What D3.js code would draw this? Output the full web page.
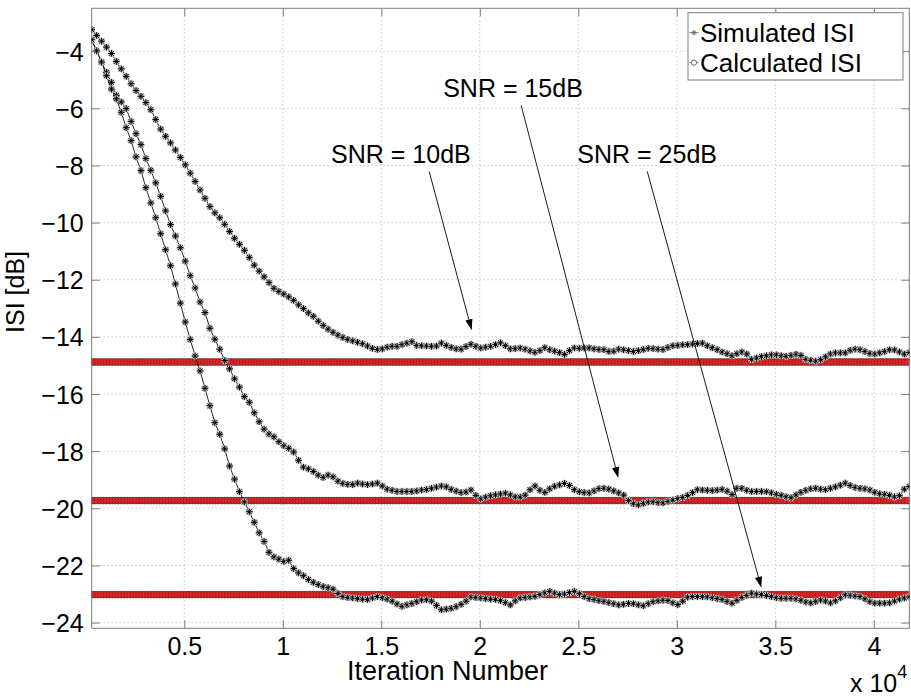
<!DOCTYPE html>
<html>
<head>
<meta charset="utf-8">
<script src="https://cdn.jsdelivr.net/npm/d3@7"></script>
<style>
  body { margin: 0; background: #fff; }
  svg { display: block; font-family: "Liberation Sans", Arial, sans-serif; }
</style>
</head>
<body>
<div id="chart"></div>
<script>
// iteration numbers of the simulated samples
const iterations = d3.range(300, 41801, 250);

// simulated ISI [dB]
const simulated10 = [
  -3.25,-3.45,-3.65,-3.86,-4.08,-4.36,-4.62,-4.88,-5.14,-5.38,
  -5.58,-5.80,-6.05,-6.39,-6.73,-6.98,-7.21,-7.46,-7.72,-7.98,
  -8.27,-8.56,-8.86,-9.15,-9.44,-9.66,-9.83,-10.06,-10.31,-10.55,
  -10.76,-10.97,-11.22,-11.49,-11.70,-11.90,-12.10,-12.30,-12.41,-12.50,
  -12.60,-12.72,-12.88,-13.01,-13.16,-13.28,-13.45,-13.60,-13.73,-13.84,
  -13.94,-14.02,-14.09,-14.14,-14.19,-14.24,-14.32,-14.40,-14.44,-14.42,
  -14.36,-14.33,-14.33,-14.27,-14.22,-14.17,-14.30,-14.31,-14.32,-14.33,
  -14.32,-14.22,-14.30,-14.37,-14.42,-14.43,-14.34,-14.26,-14.33,-14.39,
  -14.36,-14.33,-14.27,-14.21,-14.31,-14.42,-14.41,-14.39,-14.43,-14.49,
  -14.54,-14.48,-14.38,-14.45,-14.50,-14.55,-14.61,-14.48,-14.39,-14.40,
  -14.39,-14.39,-14.42,-14.44,-14.45,-14.51,-14.50,-14.43,-14.45,-14.48,
  -14.51,-14.48,-14.44,-14.40,-14.41,-14.43,-14.44,-14.37,-14.31,-14.30,
  -14.28,-14.27,-14.25,-14.23,-14.22,-14.31,-14.38,-14.45,-14.53,-14.59,
  -14.66,-14.59,-14.53,-14.60,-14.79,-14.74,-14.69,-14.66,-14.63,-14.63,
  -14.66,-14.68,-14.65,-14.61,-14.65,-14.79,-14.82,-14.85,-14.80,-14.70,
  -14.60,-14.56,-14.56,-14.56,-14.47,-14.43,-14.45,-14.51,-14.58,-14.60,
  -14.56,-14.51,-14.45,-14.46,-14.53,-14.60,-14.55
];
const simulated15 = [
  -3.62,-3.98,-4.39,-4.74,-5.09,-5.55,-5.78,-6.01,-6.46,-6.89,
  -7.27,-7.76,-8.17,-8.61,-9.08,-9.59,-10.07,-10.47,-10.88,-11.35,
  -11.86,-12.29,-12.78,-13.15,-13.70,-14.08,-14.43,-14.83,-15.12,-15.47,
  -15.76,-16.09,-16.29,-16.66,-16.97,-17.23,-17.40,-17.50,-17.67,-17.81,
  -17.90,-18.03,-18.32,-18.56,-18.62,-18.71,-18.84,-18.92,-18.84,-18.90,
  -19.05,-19.13,-19.16,-19.17,-19.12,-19.15,-19.17,-19.15,-19.12,-19.22,
  -19.33,-19.37,-19.41,-19.41,-19.41,-19.41,-19.39,-19.36,-19.34,-19.30,
  -19.26,-19.22,-19.25,-19.34,-19.40,-19.45,-19.43,-19.36,-19.55,-19.67,
  -19.61,-19.56,-19.53,-19.50,-19.47,-19.53,-19.60,-19.61,-19.54,-19.35,
  -19.22,-19.37,-19.44,-19.32,-19.23,-19.18,-19.13,-19.20,-19.35,-19.42,
  -19.45,-19.46,-19.39,-19.31,-19.30,-19.33,-19.39,-19.46,-19.54,-19.73,
  -19.84,-19.88,-19.83,-19.78,-19.77,-19.80,-19.81,-19.76,-19.71,-19.66,
  -19.62,-19.55,-19.45,-19.35,-19.36,-19.37,-19.38,-19.36,-19.34,-19.40,
  -19.52,-19.30,-19.30,-19.37,-19.41,-19.41,-19.41,-19.42,-19.46,-19.51,
  -19.55,-19.60,-19.63,-19.53,-19.44,-19.37,-19.32,-19.30,-19.33,-19.35,
  -19.30,-19.25,-19.19,-19.12,-19.20,-19.27,-19.30,-19.32,-19.36,-19.44,
  -19.49,-19.51,-19.55,-19.60,-19.56,-19.33,-19.24
];
const simulated25 = [
  -3.60,-3.99,-4.38,-4.86,-5.33,-5.67,-6.14,-6.68,-7.13,-7.70,
  -8.18,-8.78,-9.31,-9.83,-10.39,-10.95,-11.51,-12.15,-12.82,-13.48,
  -14.09,-14.67,-15.19,-15.80,-16.41,-17.00,-17.41,-17.92,-18.52,-18.98,
  -19.42,-19.78,-20.12,-20.49,-20.86,-21.16,-21.54,-21.70,-21.78,-21.86,
  -21.82,-22.11,-22.26,-22.36,-22.49,-22.59,-22.67,-22.74,-22.78,-22.83,
  -22.98,-23.09,-23.12,-23.14,-23.16,-23.18,-23.19,-23.14,-23.09,-23.13,
  -23.18,-23.25,-23.35,-23.43,-23.38,-23.33,-23.27,-23.21,-23.20,-23.25,
  -23.40,-23.55,-23.53,-23.50,-23.44,-23.36,-23.25,-23.10,-23.12,-23.14,
  -23.16,-23.18,-23.19,-23.23,-23.30,-23.38,-23.24,-23.14,-23.12,-23.10,
  -23.08,-23.02,-22.96,-22.91,-22.97,-23.02,-23.00,-22.95,-22.91,-22.99,
  -23.09,-23.16,-23.19,-23.23,-23.26,-23.30,-23.34,-23.38,-23.36,-23.33,
  -23.34,-23.38,-23.41,-23.34,-23.27,-23.24,-23.22,-23.23,-23.31,-23.37,
  -23.25,-23.11,-23.09,-23.09,-23.09,-23.10,-23.13,-23.16,-23.19,-23.26,
  -23.32,-23.22,-23.12,-23.05,-22.97,-23.00,-23.02,-23.05,-23.09,-23.13,
  -23.15,-23.15,-23.15,-23.17,-23.22,-23.28,-23.31,-23.26,-23.21,-23.25,
  -23.31,-23.24,-23.13,-23.03,-23.05,-23.07,-23.09,-23.17,-23.27,-23.32,
  -23.32,-23.32,-23.31,-23.25,-23.18,-23.14,-23.10
];

// calculated (theoretical) ISI for each SNR, constant over iterations
const snrLabels = ["SNR = 10dB", "SNR = 15dB", "SNR = 25dB"];
const calculatedISI = [-14.88, -19.73, -23.02];
const calcIterations = d3.range(300, 41801, 150);

// annotation text anchors and arrows, in data units [iteration, dB]
const labelPos = [[12450, -7.90], [18140, -5.59], [24950, -7.90]];
const arrowFrom = [[17430, -8.21], [22100, -5.90], [28500, -8.21]];
const arrowTo = [[19590, -13.77], [27030, -18.94], [34290, -22.78]];

const xTicks = [5000, 10000, 15000, 20000, 25000, 30000, 35000, 40000];
const yTicks = [-4, -6, -8, -10, -12, -14, -16, -18, -20, -22, -24];

const width = 911, height = 699;
const margin = { top: 8.3, right: 1.7, bottom: 70.7, left: 91.7 };
const innerW = width - margin.left - margin.right;
const innerH = height - margin.top - margin.bottom;
const axisColor = "#7d7d7d";

const svg = d3.select("#chart").append("svg")
  .attr("width", width)
  .attr("height", height);

const x = d3.scaleLinear().domain([300, 41800]).range([0, innerW]);
const y = d3.scaleLinear().domain([-24.2, -2.5]).range([innerH, 0]);

const g = svg.append("g")
  .attr("transform", `translate(${margin.left},${margin.top})`);

// dotted grid
g.append("g").selectAll("line").data(xTicks).enter().append("line")
  .attr("x1", d => x(d)).attr("x2", d => x(d))
  .attr("y1", 0).attr("y2", innerH)
  .attr("stroke", "#b4b4b4").attr("stroke-dasharray", "1,3");
g.append("g").selectAll("line").data(yTicks).enter().append("line")
  .attr("x1", 0).attr("x2", innerW)
  .attr("y1", d => y(d)).attr("y2", d => y(d))
  .attr("stroke", "#b4b4b4").attr("stroke-dasharray", "1,3");

// axes, ticks pointing inward on all four sides
const fmtX = d => d3.format("")(d / 10000);
const bottomAxis = g.append("g").attr("transform", `translate(0,${innerH})`)
  .call(d3.axisBottom(x).tickValues(xTicks).tickSize(-8).tickPadding(9).tickFormat(fmtX));
const topAxis = g.append("g")
  .call(d3.axisTop(x).tickValues(xTicks).tickSize(-8).tickFormat(""));
const leftAxis = g.append("g")
  .call(d3.axisLeft(y).tickValues(yTicks).tickSize(-8).tickPadding(4));
const rightAxis = g.append("g").attr("transform", `translate(${innerW},0)`)
  .call(d3.axisRight(y).tickValues(yTicks).tickSize(-8).tickFormat(""));

[bottomAxis, topAxis, leftAxis, rightAxis].forEach(a => {
  a.select(".domain").remove();
  a.selectAll(".tick line").attr("stroke", axisColor);
  a.selectAll("text").attr("fill", "#000").style("font-size", "25px")
    .style("font-family", "\"Liberation Sans\", Arial, sans-serif");
});
leftAxis.selectAll("text").attr("dx", "-4px").attr("dy", "0.36em");

g.append("rect")
  .attr("width", innerW).attr("height", innerH)
  .attr("fill", "none").attr("stroke", axisColor);

// plot area clip
svg.append("defs").append("clipPath").attr("id", "plotClip")
  .append("rect").attr("width", innerW).attr("height", innerH);
const plot = g.append("g").attr("clip-path", "url(#plotClip)");

// calculated ISI: dense red circles
calculatedISI.forEach(v => {
  plot.append("line")
    .attr("x1", 0).attr("x2", innerW)
    .attr("y1", y(v)).attr("y2", y(v))
    .attr("stroke", "#444").attr("stroke-width", 1);
  plot.append("g").selectAll("circle").data(calcIterations).enter().append("circle")
    .attr("cx", d => x(d)).attr("cy", y(v)).attr("r", 3.4)
    .attr("fill", "#ff1a1a").attr("stroke", "#3a3a3a").attr("stroke-width", 0.7);
});

// simulated ISI: black line with asterisk markers
const starPath = s => `M${-s},0L${s},0M0,${-s}L0,${s}` +
  `M${-s * 0.72},${-s * 0.72}L${s * 0.72},${s * 0.72}M${-s * 0.72},${s * 0.72}L${s * 0.72},${-s * 0.72}`;
const line = d3.line().x(d => x(d[0])).y(d => y(d[1]));

[simulated10, simulated15, simulated25].forEach(series => {
  const pts = iterations.map((it, i) => [it, series[i]]);
  plot.append("path").datum(pts)
    .attr("d", line).attr("fill", "none")
    .attr("stroke", "#111").attr("stroke-width", 0.9);
  const mk = plot.append("g").selectAll("g").data(pts).enter().append("g")
    .attr("transform", d => `translate(${x(d[0])},${y(d[1])})`);
  mk.append("path").attr("d", starPath(3.6))
    .attr("stroke", "#c4c4c4").attr("stroke-width", 2.4).attr("fill", "none");
  mk.append("path").attr("d", starPath(3.3))
    .attr("stroke", "#000").attr("stroke-width", 1).attr("fill", "none");
});

// SNR annotations with arrows
snrLabels.forEach((lab, i) => {
  g.append("text")
    .attr("x", x(labelPos[i][0])).attr("y", y(labelPos[i][1]))
    .style("font-size", "25px").attr("fill", "#000")
    .text(lab);
  const x1 = x(arrowFrom[i][0]), y1 = y(arrowFrom[i][1]);
  const x2 = x(arrowTo[i][0]), y2 = y(arrowTo[i][1]);
  const ang = Math.atan2(y2 - y1, x2 - x1);
  const L = 11, W = 3.6;
  const bx = x2 - L * Math.cos(ang), by = y2 - L * Math.sin(ang);
  g.append("line")
    .attr("x1", x1).attr("y1", y1).attr("x2", bx).attr("y2", by)
    .attr("stroke", "#000").attr("stroke-width", 0.9);
  g.append("path")
    .attr("d", `M${x2},${y2}L${bx - W * Math.sin(ang)},${by + W * Math.cos(ang)}` +
      `L${bx + W * Math.sin(ang)},${by - W * Math.cos(ang)}Z`)
    .attr("fill", "#000");
});

// legend
const lg = svg.append("g").attr("transform", "translate(688,12.7)");
lg.append("rect").attr("width", 215).attr("height", 67.3)
  .attr("fill", "#fff").attr("stroke", axisColor);
const legendItems = ["Simulated ISI", "Calculated ISI"];
legendItems.forEach((name, i) => {
  const cy = 20 + i * 30;
  lg.append("line").attr("x1", 1).attr("x2", 11).attr("y1", cy).attr("y2", cy)
    .attr("stroke", "#888");
  if (i === 0) {
    lg.append("path").attr("transform", `translate(6,${cy})`).attr("d", starPath(2.6))
      .attr("stroke", "#666").attr("fill", "none");
  } else {
    lg.append("circle").attr("cx", 6).attr("cy", cy).attr("r", 2.6)
      .attr("stroke", "#666").attr("fill", "#fff");
  }
  lg.append("text").attr("x", 12).attr("y", cy + 9)
    .style("font-size", "26px").attr("fill", "#000").text(name);
});

// axis labels
svg.append("text")
  .attr("x", 347).attr("y", 680)
  .style("font-size", "27px")
  .text("Iteration Number");
svg.append("text")
  .attr("transform", `translate(24,292) rotate(-90)`)
  .attr("text-anchor", "middle").style("font-size", "25px")
  .text("ISI [dB]");
const ex = svg.append("text").attr("x", 850).attr("y", 692).style("font-size", "25px");
ex.append("tspan").text("x 10");
ex.append("tspan").attr("dy", -14).style("font-size", "18px").text("4");
</script>
</body>
</html>
